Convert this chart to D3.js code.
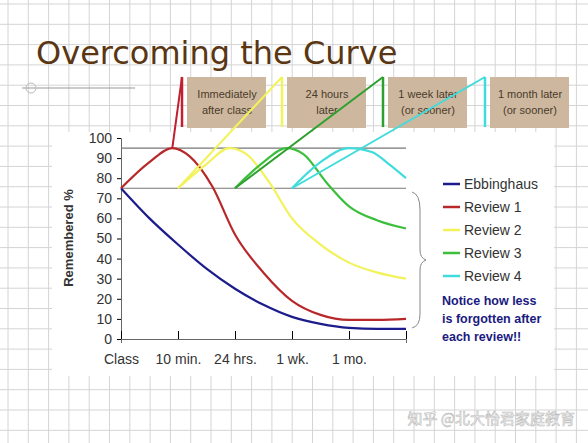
<!DOCTYPE html>
<html><head><meta charset="utf-8">
<script src="https://cdn.jsdelivr.net/npm/d3@7"></script>
<style>body{margin:0;background:#fff}</style>
</head><body>
<svg id="chart" width="588" height="443"></svg>
<script>
// x positions in "period" units: 0 = Class, 1 = 10 min., 2 = 24 hrs., 3 = 1 wk., 4 = 1 mo.
const xLabels = ["Class", "10 min.", "24 hrs.", "1 wk.", "1 mo."];
const yTicks = [0, 10, 20, 30, 40, 50, 60, 70, 80, 90, 100];
const ebbinghaus = [[0,75],[0.5,60],[1,47],[1.5,35],[2,25],[2.5,17],[3,11],[3.5,7.5],[4,5.5],[4.5,5],[5,5]];
const review1 = [[0,75],[0.5,88],[0.9,95],[1.2,91],[1.6,76],[2,52],[2.5,33],[3,19],[3.5,12],[4,9.5],[4.5,9.5],[5,10]];
const review2 = [[1,75],[1.5,87],[1.9,95],[2.2,92],[2.6,78],[3,60],[3.5,47],[4,38],[4.5,33],[5,30]];
const review3 = [[2,75],[2.5,88],[2.9,95],[3.2,92],[3.6,78],[4,66],[4.5,59],[5,55]];
const review4 = [[3,75],[3.5,88],[4,95],[4.4,93],[4.7,87],[5,80]];
const seriesNames = ["Ebbinghaus", "Review 1", "Review 2", "Review 3", "Review 4"];
const colors = ["#1c1c8c", "#b8282a", "#f2f25a", "#3cbf3c", "#40dcdc"];
const boxLabels = [["Immediately","after class"],["24 hours","later"],["1 week later","(or sooner)"],["1 month later","(or sooner)"]];
const refLines = [95, 75];

const svg = d3.select("#chart");

// graph paper background
const grid = svg.append("g").attr("stroke", "#d4d4d4").attr("stroke-width", 1);
d3.range(0, 600, 20.3).forEach(v => {
    grid.append("line").attr("x1", v + 8).attr("x2", v + 8).attr("y1", 0).attr("y2", 443);
    grid.append("line").attr("y1", v + 4).attr("y2", v + 4).attr("x1", 0).attr("x2", 588);
});
svg.append("rect").attr("x", 52).attr("y", 132).attr("width", 502).attr("height", 244).attr("fill", "#fff");
svg.append("line").attr("x1", 22).attr("x2", 135).attr("y1", 88).attr("y2", 88).attr("stroke", "#999");
svg.append("circle").attr("cx", 31).attr("cy", 88).attr("r", 5).attr("fill", "none").attr("stroke", "#bbb");

svg.append("text").attr("x", 36).attr("y", 64).text("Overcoming the Curve")
    .attr("font-family", "DejaVu Sans").attr("font-size", 32).attr("fill", "#5a3612");

const x = d3.scaleLinear().domain([0, 5]).range([121, 406]);
const y = d3.scaleLinear().domain([0, 100]).range([339, 138]);

const ax = svg.append("g").attr("font-family", "Liberation Sans");
ax.append("g").attr("transform", "translate(121,0)")
    .call(d3.axisLeft(y).tickValues(yTicks).tickSize(4).tickPadding(5))
    .call(g => g.select(".domain").attr("stroke", "#666"))
    .call(g => g.selectAll("text").attr("font-size", 14).attr("fill", "#333").attr("font-family", "Liberation Sans"));
ax.append("g").attr("transform", "translate(0,339)")
    .call(d3.axisBottom(x).tickValues(d3.range(0, 6)).tickSize(4).tickFormat(d => xLabels[d] || ""))
    .call(g => g.select(".domain").attr("stroke", "#666"))
    .call(g => g.selectAll(".tick line").attr("transform", "translate(0,-8)").attr("y2", 8))
    .call(g => g.selectAll("text").attr("font-size", 14).attr("fill", "#333").attr("dy", "1.3em").attr("font-family", "Liberation Sans"));
svg.append("text").attr("transform", "translate(73,238) rotate(-90)").attr("text-anchor", "middle")
    .attr("font-family", "Liberation Sans").attr("font-weight", "bold").attr("font-size", 13).attr("fill", "#333")
    .text("Remembered %");

refLines.forEach(v => svg.append("line").attr("x1", x(0)).attr("x2", x(5)).attr("y1", y(v)).attr("y2", y(v))
    .attr("stroke", "#777").attr("stroke-width", 1.2));

const line = d3.line().x(d => x(d[0])).y(d => y(d[1])).curve(d3.curveMonotoneX);
const all = [ebbinghaus, review1, review2, review3, review4];
all.forEach((s, i) => svg.append("path").attr("d", line(s)).attr("fill", "none")
    .attr("stroke", colors[i]).attr("stroke-width", 2.2));

// leader lines from each review to its label box
const barX = [182, 282, 383, 485];
const startPt = [[0.9,95],[1,75],[2,75],[3,75]];
barX.forEach((bx, i) => {
    const c = colors[i + 1];
    svg.append("line").attr("x1", x(startPt[i][0])).attr("y1", y(startPt[i][1])).attr("x2", bx).attr("y2", 77)
        .attr("stroke", i == 0 ? "#c02030" : (i == 2 ? "#2ea02e" : c)).attr("stroke-width", 2);
    svg.append("line").attr("x1", bx).attr("x2", bx).attr("y1", 77).attr("y2", 127)
        .attr("stroke", i == 0 ? "#c02030" : (i == 2 ? "#2ea02e" : c)).attr("stroke-width", 2.5);
    const g = svg.append("g").attr("transform", `translate(${bx + 5},77)`);
    g.append("rect").attr("width", 79).attr("height", 51).attr("fill", "#cdb89f");
    boxLabels[i].forEach((t, k) => g.append("text").attr("x", 40).attr("y", 21 + k * 16).attr("text-anchor", "middle")
        .attr("font-family", "Liberation Sans").attr("font-size", 11).attr("fill", "#4a3a2a").text(t));
});

// legend
seriesNames.forEach((n, i) => {
    const ly = 184 + i * 23;
    svg.append("line").attr("x1", 443).attr("x2", 460).attr("y1", ly).attr("y2", ly).attr("stroke", colors[i]).attr("stroke-width", 2.5);
    svg.append("text").attr("x", 464).attr("y", ly + 5).text(n).attr("font-family", "Liberation Sans")
        .attr("font-size", 14).attr("fill", "#333");
});
svg.append("path").attr("d", "M412,192 Q420,194 420,210 L420,250 Q420,258 426,260 Q420,262 420,270 L420,314 Q420,326 412,328")
    .attr("fill", "none").attr("stroke", "#888");
["Notice how less", "is forgotten after", "each review!!"].forEach((t, i) =>
    svg.append("text").attr("x", 442).attr("y", 305 + i * 18).text(t).attr("font-family", "Liberation Sans")
        .attr("font-weight", "bold").attr("font-size", 12.5).attr("fill", "#1a1a80"));

svg.append("text").attr("x", 575).attr("y", 424).attr("text-anchor", "end").text("知乎 @北大怡君家庭教育")
    .attr("font-family", "Noto Sans CJK SC").attr("font-size", 15).attr("fill", "#fff")
    .attr("stroke", "#bbb").attr("stroke-width", 0.6);
</script>
</body></html>
